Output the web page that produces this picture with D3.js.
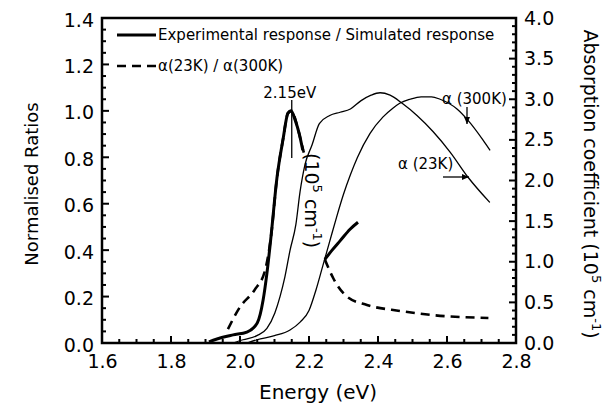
<!DOCTYPE html>
<html><head><meta charset="utf-8">
<script src="https://cdn.jsdelivr.net/npm/d3@7"></script>
<style>
body{margin:0;background:#fff}
svg{display:block}
text{font-family:"DejaVu Sans",sans-serif;fill:#000}
</style>
</head><body>
<svg id="chart" width="610" height="405"></svg>
<script>
// ---- data ----
const xTicks = [1.6, 1.8, 2.0, 2.2, 2.4, 2.6, 2.8];
const leftTicks = [0.0, 0.2, 0.4, 0.6, 0.8, 1.0, 1.2, 1.4];
const rightTicks = [0.0, 0.5, 1.0, 1.5, 2.0, 2.5, 3.0, 3.5, 4.0];

// Experimental / simulated response (normalised, left axis)
const expEnergy = [1.91, 1.95, 1.98, 2.02, 2.05, 2.067, 2.078, 2.09, 2.107, 2.125, 2.139, 2.148, 2.16, 2.172, 2.182, null, 2.246, 2.267, 2.29, 2.319, 2.342];
const expRatio  = [0.005, 0.025, 0.035, 0.047, 0.086, 0.185, 0.30, 0.46, 0.71, 0.88, 0.99, 1.0, 0.96, 0.9, 0.83, null, 0.36, 0.40, 0.44, 0.49, 0.52];

// alpha(23K)/alpha(300K) (left axis)
const ratEnergy = [1.965, 2.0, 2.043, 2.073, 2.09, 2.107, 2.125, 2.139, 2.15, 2.163, 2.175, 2.185, null, 2.246, 2.27, 2.31, 2.368, 2.464, 2.56, 2.72];
const ratRatio  = [0.06, 0.155, 0.23, 0.315, 0.46, 0.71, 0.88, 0.99, 1.0, 0.95, 0.88, 0.82, null, 0.36, 0.28, 0.20, 0.164, 0.138, 0.12, 0.108];

// alpha(23K), 10^5 cm^-1 (right axis)
const a23Energy = [1.98, 2.009, 2.049, 2.078, 2.101, 2.116, 2.13, 2.145, 2.162, 2.174, 2.188, 2.209, 2.23, 2.26, 2.29, 2.32, 2.35, 2.38, 2.406, 2.435, 2.47, 2.513, 2.56, 2.609, 2.661, 2.724];
const a23Value  = [0, 0.04, 0.09, 0.18, 0.37, 0.57, 0.81, 1.14, 1.46, 1.86, 2.19, 2.44, 2.7, 2.8, 2.84, 2.88, 2.98, 3.05, 3.08, 3.05, 2.95, 2.8, 2.6, 2.35, 2.04, 1.73];

// alpha(300K), 10^5 cm^-1 (right axis)
const a300Energy = [2.02, 2.049, 2.1, 2.145, 2.175, 2.2, 2.22, 2.24, 2.26, 2.28, 2.3, 2.32, 2.34, 2.377, 2.414, 2.443, 2.463, 2.493, 2.525, 2.555, 2.58, 2.629, 2.661, 2.704, 2.725];
const a300Value  = [0, 0.04, 0.09, 0.16, 0.26, 0.4, 0.65, 0.95, 1.25, 1.55, 1.83, 2.07, 2.28, 2.58, 2.78, 2.89, 2.95, 3.0, 3.03, 3.03, 3.0, 2.88, 2.74, 2.5, 2.37];

const peakEnergy = 2.15;

// ---- layout ----
const svg = d3.select("#chart");
const L = 102, R = 516, T = 18, B = 343;
const x = d3.scaleLinear().domain([1.6, 2.8]).range([L, R]);
const yL = d3.scaleLinear().domain([0, 1.4]).range([B, T]);
const yR = d3.scaleLinear().domain([0, 4]).range([B, T]);

const near = (a, b) => Math.abs(a - b) < 1e-6;
const xMinor = d3.range(1.6, 2.8001, 0.05).filter(v => !xTicks.some(t => near(t, v)));
const lMinor = d3.range(0, 1.4001, 0.05).filter(v => !leftTicks.some(t => near(t, v)));
const rMinor = d3.range(0, 4.0001, 0.1).filter(v => !rightTicks.some(t => near(t, v)));

// frame
svg.append("rect").attr("x", L).attr("y", T).attr("width", R - L).attr("height", B - T)
  .attr("fill", "none").attr("stroke", "#000").attr("stroke-width", 2.5);

// ---- curves ----
function pts(xs, ys) { return xs.map((e, i) => ({e, v: ys[i]})); }
const lineL = d3.line().defined(d => d.e !== null).x(d => x(d.e)).y(d => yL(d.v)).curve(d3.curveMonotoneX);
const lineR = d3.line().defined(d => d.e !== null).x(d => x(d.e)).y(d => yR(d.v)).curve(d3.curveMonotoneX);

svg.append("path").datum(pts(a23Energy, a23Value)).attr("d", lineR)
  .attr("fill", "none").attr("stroke", "#000").attr("stroke-width", 1.3);
svg.append("path").datum(pts(a300Energy, a300Value)).attr("d", lineR)
  .attr("fill", "none").attr("stroke", "#000").attr("stroke-width", 1.3);
svg.append("path").datum(pts(ratEnergy, ratRatio)).attr("d", lineL)
  .attr("fill", "none").attr("stroke", "#000").attr("stroke-width", 2.6).attr("stroke-dasharray", "9,6");
svg.append("path").datum(pts(expEnergy, expRatio)).attr("d", lineL)
  .attr("fill", "none").attr("stroke", "#000").attr("stroke-width", 3).attr("stroke-linejoin", "round");

// ---- annotations ----
svg.append("line").attr("x1", x(peakEnergy)).attr("x2", x(peakEnergy)).attr("y1", 100).attr("y2", 158)
  .attr("stroke", "#000").attr("stroke-width", 1.3);
svg.append("text").attr("x", x(peakEnergy) - 2).attr("y", 98).attr("text-anchor", "middle")
  .style("font-size", "15px").text("2.15eV");

function arrow(x1, y1, x2, y2) {
  svg.append("line").attr("x1", x1).attr("y1", y1).attr("x2", x2).attr("y2", y2)
    .attr("stroke", "#000").attr("stroke-width", 1.3);
  const a = Math.atan2(y2 - y1, x2 - x1), s = 7, w = 3;
  const p = [[x2, y2],
    [x2 - s * Math.cos(a) - w * Math.sin(a), y2 - s * Math.sin(a) + w * Math.cos(a)],
    [x2 - s * Math.cos(a) + w * Math.sin(a), y2 - s * Math.sin(a) - w * Math.cos(a)]];
  svg.append("path").attr("d", "M" + p.join("L") + "Z").attr("fill", "#000");
}

svg.append("text").attr("x", 442).attr("y", 104).style("font-size", "15px").text("α (300K)");
arrow(467, 107, 467, 124);

svg.append("text").attr("x", 398).attr("y", 169).style("font-size", "15px").text("α (23K)");
arrow(443, 177, 469, 177);

const mid = svg.append("text").attr("transform", "translate(305,153) rotate(90)")
  .style("font-size", "19px");
mid.append("tspan").text("(10");
mid.append("tspan").attr("dy", -8).style("font-size", "13px").text("5");
mid.append("tspan").attr("dy", 8).text(" cm");
mid.append("tspan").attr("dy", -8).style("font-size", "13px").text("-1");
mid.append("tspan").attr("dy", 8).text(")");

// legend
svg.append("line").attr("x1", 117).attr("x2", 156).attr("y1", 35).attr("y2", 35)
  .attr("stroke", "#000").attr("stroke-width", 3);
svg.append("text").attr("x", 158).attr("y", 40).style("font-size", "15px")
  .text("Experimental response / Simulated response");
svg.append("line").attr("x1", 117).attr("x2", 156).attr("y1", 66).attr("y2", 66)
  .attr("stroke", "#000").attr("stroke-width", 2.6).attr("stroke-dasharray", "9,6");
svg.append("text").attr("x", 158).attr("y", 71).style("font-size", "15px")
  .text("α(23K) / α(300K)");

// axis titles
svg.append("text").attr("x", 318).attr("y", 399).attr("text-anchor", "middle")
  .style("font-size", "20px").text("Energy (eV)");
svg.append("text").attr("transform", "translate(38,184) rotate(-90)").attr("text-anchor", "middle")
  .style("font-size", "18px").text("Normalised Ratios");
const rt = svg.append("text").attr("transform", "translate(584,184) rotate(90)").attr("text-anchor", "middle")
  .style("font-size", "19px");
rt.append("tspan").text("Absorption coefficient (10");
rt.append("tspan").attr("dy", -8).style("font-size", "13px").text("5");
rt.append("tspan").attr("dy", 8).text(" cm");
rt.append("tspan").attr("dy", -8).style("font-size", "13px").text("-1");
rt.append("tspan").attr("dy", 8).text(")");

// ---- axes: labels via d3 axes ----
function styleAxis(g, fs) {
  g.select(".domain").remove();
  g.selectAll(".tick line").remove();
  g.selectAll("text").style("font-size", fs + "px");
}
svg.append("g").attr("transform", `translate(0,${B})`)
  .call(d3.axisBottom(x).tickValues(xTicks).tickSize(0).tickPadding(12).tickFormat(d3.format(".1f")))
  .call(g => styleAxis(g, 19));
svg.append("g").attr("transform", `translate(${L},0)`)
  .call(d3.axisLeft(yL).tickValues(leftTicks).tickSize(0).tickPadding(8).tickFormat(d3.format(".1f")))
  .call(g => { styleAxis(g, 19); g.selectAll("text").attr("transform", "translate(0,2)"); });
svg.append("g").attr("transform", `translate(${R},0)`)
  .call(d3.axisRight(yR).tickValues(rightTicks).tickSize(0).tickPadding(8).tickFormat(d3.format(".1f")))
  .call(g => styleAxis(g, 19));

// ---- inward tick marks from the scales ----
const tk = svg.append("g").attr("stroke", "#000").attr("stroke-width", 2);
function ticksX(vals, len) {
  tk.selectAll(null).data(vals).enter().append("line")
    .attr("x1", d => x(d)).attr("x2", d => x(d)).attr("y1", B).attr("y2", B - len);
}
function ticksY(scale, x0, dir, vals, len) {
  tk.selectAll(null).data(vals).enter().append("line")
    .attr("y1", d => scale(d)).attr("y2", d => scale(d)).attr("x1", x0).attr("x2", x0 + dir * len);
}
ticksX(xTicks, 7); ticksX(xMinor, 4);
ticksY(yL, L, 1, leftTicks, 7); ticksY(yL, L, 1, lMinor, 4);
ticksY(yR, R, -1, rightTicks, 7); ticksY(yR, R, -1, rMinor, 4);
</script>
</body></html>
